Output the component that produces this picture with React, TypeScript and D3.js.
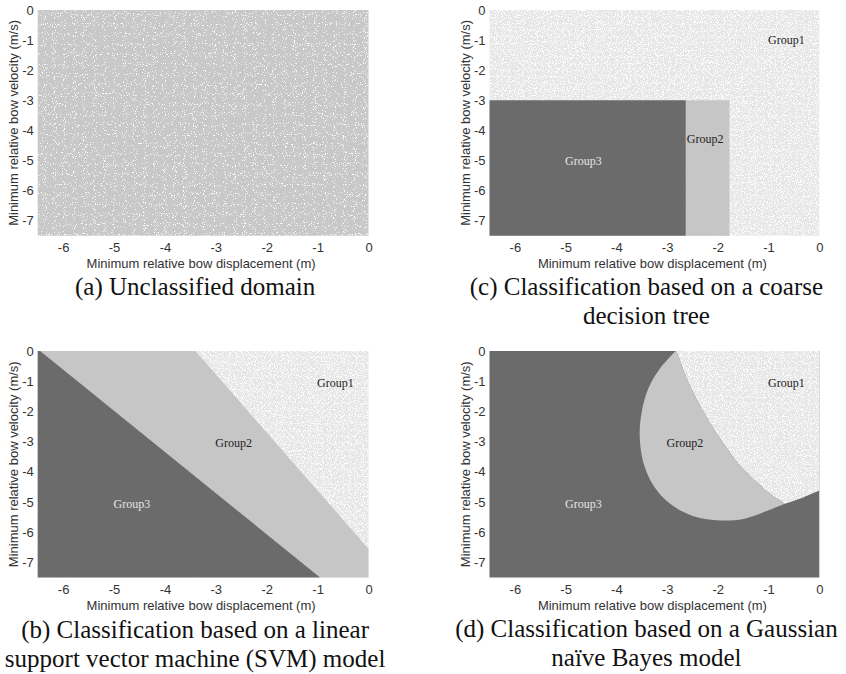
import React, { useRef, useEffect } from "react";
import * as d3 from "d3";

// axis ranges and ticks
const dispDomain = [-6.5, 0];
const velDomain = [-7.5, 0];
const dispTicks = [-6, -5, -4, -3, -2, -1, 0];
const velTicks = [0, -1, -2, -3, -4, -5, -6, -7];
const groupNames = ["Group1", "Group2", "Group3"];

// (c) coarse decision tree splits
const treeVelSplit = -3.0;
const treeDispSplits = [-2.63, -1.77];

// (b) linear SVM boundaries [disp, vel]
const svmEdge12 = [[-3.4, 0], [0, -6.55]];
const svmEdge23 = [[-6.45, 0], [-0.95, -7.5]];

// (d) gaussian naive bayes boundaries
const bayesOuter = [
  [-2.83, 0], [-3.14, -0.58], [-3.37, -1.24], [-3.5, -2.02], [-3.54, -2.79],
  [-3.47, -3.68], [-3.27, -4.45], [-2.94, -5.06], [-2.48, -5.47], [-1.95, -5.61],
  [-1.49, -5.56], [-1.1, -5.34], [-0.68, -5.06],
];
const bayesInner = [
  [-2.81, 0], [-2.61, -0.91], [-2.28, -2.02], [-1.95, -2.9], [-1.62, -3.68],
  [-1.3, -4.23], [-0.97, -4.73], [-0.68, -5.06],
];
const bayesEdge13 = [[-0.68, -5.06], [-0.31, -4.84], [0, -4.62]];

const C = { bg: "#c8c8c8", g1: "#e6e6e6", g2: "#c6c6c6", g3: "#6b6b6b" };

const panels = [
  { id: "a", x0: 37.7, x1: 368.5, y0: 10, y1: 235.8, capY: 295,
    caption: ["(a) Unclassified domain"] },
  { id: "c", x0: 489.5, x1: 819.3, y0: 10, y1: 235.8, capY: 295,
    caption: ["(c) Classification based on a coarse", "decision tree"],
    labels: [[-0.65, -1.0], [-2.25, -4.3], [-4.65, -5.0]] },
  { id: "b", x0: 37.7, x1: 368.5, y0: 351, y1: 577.5, capY: 638,
    caption: ["(b) Classification based on a linear", "support vector machine (SVM) model"],
    labels: [[-0.65, -1.05], [-2.65, -3.05], [-4.65, -5.05]] },
  { id: "d", x0: 489.5, x1: 819.3, y0: 351, y1: 577.5, capY: 637,
    caption: ["(d) Classification based on a Gaussian", "naïve Bayes model"],
    labels: [[-0.65, -1.05], [-2.65, -3.05], [-4.65, -5.05]] },
];

function Panel({ p }) {
  const xRef = useRef(null);
  const yRef = useRef(null);
  const x = d3.scaleLinear().domain(dispDomain).range([p.x0, p.x1]);
  const y = d3.scaleLinear().domain(velDomain).range([p.y1, p.y0]);

  useEffect(() => {
    const gx = d3.select(xRef.current);
    gx.call(d3.axisBottom(x).tickValues(dispTicks).tickSize(0).tickPadding(7).tickFormat(d => String(d)));
    gx.select(".domain").remove();
    gx.selectAll("text").attr("font-family", "Liberation Sans, Arial, sans-serif").attr("font-size", 13).attr("fill", "#333");
    const gy = d3.select(yRef.current);
    gy.call(d3.axisLeft(y).tickValues(velTicks).tickSize(0).tickPadding(4).tickFormat(d => String(d)));
    gy.select(".domain").remove();
    gy.selectAll("text").attr("font-family", "Liberation Sans, Arial, sans-serif").attr("font-size", 13).attr("fill", "#333");
  }, []);

  const poly = pts => "M" + pts.map(([a, b]) => `${x(a)},${y(b)}`).join("L") + "Z";
  const curve = d3.line().x(d => x(d[0])).y(d => y(d[1])).curve(d3.curveCatmullRom);
  const [xmin, xmax] = dispDomain;
  const [ymin, ymax] = velDomain;
  const full = poly([[xmin, ymax], [xmax, ymax], [xmax, ymin], [xmin, ymin]]);

  let regions = null;
  if (p.id === "a") {
    regions = <path d={full} fill={C.bg} filter="url(#spkA)" />;
  } else if (p.id === "c") {
    regions = (
      <g>
        <path d={full} fill={C.g1} filter="url(#spk1)" />
        <path d={poly([[xmin, treeVelSplit], [treeDispSplits[0], treeVelSplit], [treeDispSplits[0], ymin], [xmin, ymin]])} fill={C.g3} />
        <path d={poly([[treeDispSplits[0], treeVelSplit], [treeDispSplits[1], treeVelSplit], [treeDispSplits[1], ymin], [treeDispSplits[0], ymin]])} fill={C.g2} />
      </g>
    );
  } else if (p.id === "b") {
    regions = (
      <g>
        <path d={full} fill={C.g1} filter="url(#spk1)" />
        <path d={poly([svmEdge23[0], svmEdge12[0], svmEdge12[1], [xmax, ymin], svmEdge23[1]])} fill={C.g2} />
        <path d={poly([[xmin, ymax], svmEdge23[0], svmEdge23[1], [xmin, ymin]])} fill={C.g3} />
      </g>
    );
  } else {
    const g2 = curve(bayesOuter) + curve([...bayesInner].reverse()).replace(/^M/, "L") + "Z";
    const g1 = curve(bayesInner) + curve(bayesEdge13).replace(/^M/, "L") + `L${x(xmax)},${y(ymax)}Z`;
    regions = (
      <g>
        <path d={full} fill={C.g3} />
        <path d={g1} fill={C.g1} filter="url(#spk1)" />
        <path d={g2} fill={C.g2} />
      </g>
    );
  }

  const midX = (p.x0 + p.x1) / 2;
  const midY = (p.y0 + p.y1) / 2;
  return (
    <g>
      {regions}
      {p.labels && p.labels.map((l, i) => (
        <text key={i} x={x(l[0])} y={y(l[1])} textAnchor="middle" dominantBaseline="central"
          fontFamily="Liberation Serif, Times New Roman, serif" fontSize={12}
          fill={i === 2 ? "#e4e4e4" : "#222"}>{groupNames[i]}</text>
      ))}
      <g ref={xRef} transform={`translate(0,${p.y1})`} />
      <g ref={yRef} transform={`translate(${p.x0},0)`} />
      <text x={midX - 2} y={p.y1 + 32} textAnchor="middle" fontFamily="Liberation Sans, Arial, sans-serif"
        fontSize={13} fill="#333">Minimum relative bow displacement (m)</text>
      <text transform={`translate(${p.x0 - 24.5},${midY}) rotate(-90)`} textAnchor="middle" dominantBaseline="central"
        fontFamily="Liberation Sans, Arial, sans-serif" fontSize={13} fill="#333">Minimum relative bow velocity (m/s)</text>
      {p.caption.map((c, i) => (
        <text key={i} x={midX - 8} y={p.capY + i * 29} textAnchor="middle"
          fontFamily="Liberation Serif, Times New Roman, serif" fontSize={25} fill="#111">{c}</text>
      ))}
    </g>
  );
}

// white speckle texture (scatter look), thresholded noise
function Speckle({ id, cut, freq }) {
  return (
    <filter id={id} x="0" y="0" width="100%" height="100%">
      <feTurbulence type="fractalNoise" baseFrequency={freq} numOctaves={1} seed={7} result="n" />
      <feColorMatrix in="n" type="matrix" values="0 0 0 0 1  0 0 0 0 1  0 0 0 0 1  1 0 0 0 0" result="w" />
      <feComponentTransfer in="w" result="t">
        <feFuncA type="linear" slope={12} intercept={-12 * cut} />
      </feComponentTransfer>
      <feComposite in="t" in2="SourceGraphic" operator="in" result="s" />
      <feMerge>
        <feMergeNode in="SourceGraphic" />
        <feMergeNode in="s" />
      </feMerge>
    </filter>
  );
}

export default function App() {
  return (
    <svg width={846} height={674} style={{ position: "absolute", left: 0, top: 0, background: "#fff" }}>
      <defs>
        <Speckle id="spkA" cut={0.61} freq={0.9} />
        <Speckle id="spk1" cut={0.53} freq={0.85} />
      </defs>
      {panels.map(p => <Panel key={p.id} p={p} />)}
    </svg>
  );
}
